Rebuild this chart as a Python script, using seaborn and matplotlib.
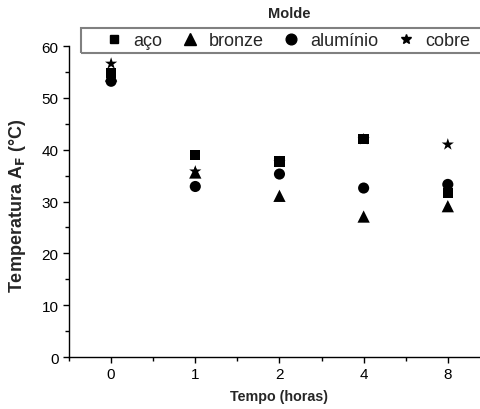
import pandas as pd
import seaborn as sns
import matplotlib
import matplotlib.pyplot as plt
from matplotlib.lines import Line2D
from matplotlib.patches import Rectangle
from matplotlib.ticker import MultipleLocator, FixedLocator

matplotlib.use('agg')

# data
tempos = ['0', '1', '2', '4', '8']
aco = [54.8, 39.0, 37.7, 42.0, 31.7]
bronze = [54.3, 35.6, 31.1, 27.1, 29.1]
aluminio = [53.2, 32.9, 35.3, 32.6, 33.3]
cobre = [56.6, 35.8, 37.6, 42.0, 41.0]
moldes = ['aço', 'bronze', 'alumínio', 'cobre']
marcadores = {'aço': 's', 'bronze': '^', 'alumínio': 'o', 'cobre': '*'}
tamanhos = {'aço': 55, 'bronze': 78, 'alumínio': 64, 'cobre': 85}

df = pd.DataFrame({
    'Tempo': tempos * 4,
    'Temp': aco + bronze + aluminio + cobre,
    'Molde': [m for m in moldes for _ in tempos],
})

sns.set_style('ticks')
plt.rcParams['font.family'] = ['Liberation Sans', 'DejaVu Sans']

fig = plt.figure(figsize=(4.81, 4.10), dpi=100)
ax = fig.add_axes([0.1435, 0.1268, 0.875, 0.7585])

for m in moldes:
    sub = df[df['Molde'] == m]
    sns.scatterplot(data=sub, x='Tempo', y='Temp', marker=marcadores[m],
                    color='black', s=tamanhos[m], edgecolor='none', ax=ax,
                    legend=False)

ax.set_xlim(-0.5, 4.5)
ax.set_ylim(0, 60)
ax.yaxis.set_major_locator(MultipleLocator(10))
ax.yaxis.set_minor_locator(MultipleLocator(5))
ax.xaxis.set_minor_locator(FixedLocator([-0.5, 0.5, 1.5, 2.5, 3.5]))
ax.tick_params(axis='both', which='major', direction='out', length=4, width=1,
               labelsize=11, color='black', labelcolor='black')
ax.tick_params(axis='both', which='minor', direction='out', length=3, width=1,
               color='black')
for s in ['top', 'right']:
    ax.spines[s].set_visible(False)
for s in ['left', 'bottom']:
    ax.spines[s].set_color('black')
    ax.spines[s].set_linewidth(1)

ax.set_xlabel('Tempo (horas)', fontsize=10.3, fontweight='bold')
ax.set_ylabel('Temperatura A$_\\mathbf{F}$ (°C)', fontsize=13, fontweight='bold')
ax.xaxis.set_label_coords(0.5, -0.103)
ax.yaxis.set_label_coords(-0.098, 0.49)

# legend box (runs off the right edge, like the original)
fig.add_artist(Rectangle((81 / 481, 1 - 54 / 410), 420 / 481, 25 / 410,
                         transform=fig.transFigure, fill=False,
                         edgecolor='0.5', linewidth=1.5, clip_on=False))
handles = [Line2D([], [], marker=marcadores[m], color='black', linestyle='none',
                  markersize={'aço': 6, 'bronze': 8.4, 'alumínio': 7.7, 'cobre': 7.8}[m])
           for m in moldes]
fig.legend(handles, moldes, loc='center left', bbox_to_anchor=(105 / 481, 1 - 42 / 410),
           ncol=4, frameon=False, fontsize=13, handletextpad=0.58,
           columnspacing=1.0, borderpad=0, handlelength=1.0, borderaxespad=0)
fig.text(289 / 481, 1 - 14 / 410, 'Molde', ha='center', va='center',
         fontsize=10.5, fontweight='bold')

fig.savefig('out.png', dpi=100)
plt.close()
